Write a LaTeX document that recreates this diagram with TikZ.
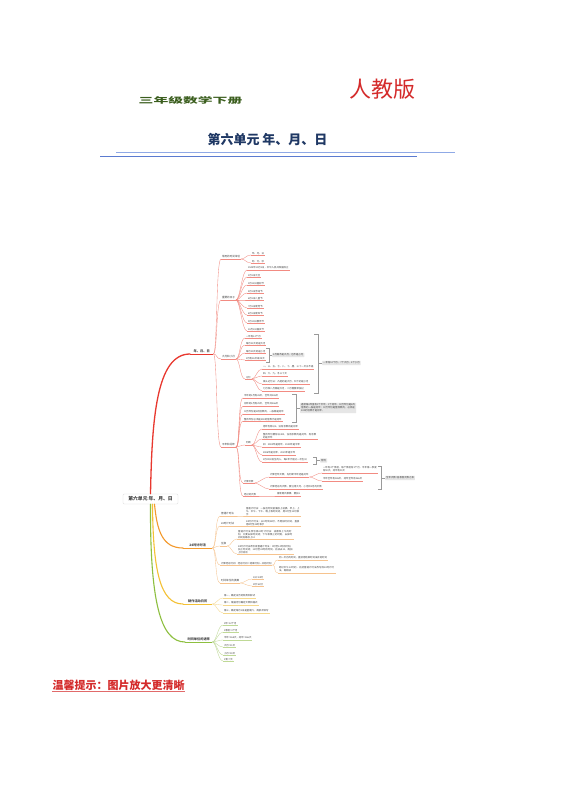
\documentclass[tikz,border=0pt]{standalone}
\usepackage{fontspec}
\setmainfont{Noto Sans CJK SC}
\XeTeXlinebreaklocale "zh"
\XeTeXlinebreakskip = 0pt plus 0.5pt
\usetikzlibrary{positioning}
\definecolor{redmain}{HTML}{E8382F}
\definecolor{redsub}{HTML}{F28B82}
\definecolor{orgmain}{HTML}{F39A2E}
\definecolor{orgsub}{HTML}{F6C38E}
\definecolor{ylwmain}{HTML}{F4C135}
\definecolor{ylwsub}{HTML}{F5D88C}
\definecolor{grnmain}{HTML}{8DBF3F}
\definecolor{grnsub}{HTML}{BFD996}
\definecolor{inkgray}{HTML}{404040}
\definecolor{notegray}{HTML}{E6E6E6}
\definecolor{bracegray}{HTML}{9A9A9A}
\definecolor{titlenavy}{HTML}{1F3864}
\definecolor{titlegreen}{HTML}{3B5E1E}
\definecolor{pressred}{HTML}{D42A2A}
\definecolor{rulelight}{HTML}{8FA9E6}
\definecolor{ruledark}{HTML}{5B7BD0}

\begin{document}
\begin{tikzpicture}[x=1pt, y=-1pt,
    root/.style={draw=black!15, fill=white, rounded corners=1.2pt, minimum width=55pt, minimum height=10pt, inner sep=1pt, font=\bfseries\fontsize{4.8}{5.6}\selectfont, text=inkgray},
    hub/.style={anchor=south west, inner xsep=1pt, inner ysep=0.8pt, font=\bfseries\fontsize{3.2}{3.8}\selectfont, text=inkgray},
    mainul/.style={append after command={(\tikzlastnode.south west) edge[draw=#1, line width=0.9pt] (\tikzlastnode.south east)}},
    ul/.style={append after command={(\tikzlastnode.south west) edge[draw=#1, line width=0.35pt] (\tikzlastnode.south east)}},
    leaf/.style={anchor=south west, inner xsep=0.8pt, inner ysep=0.6pt, font=\fontsize{2.4}{3}\selectfont, text=inkgray, align=left},
    topic/.style={leaf, font=\fontsize{2.6}{3.2}\selectfont},
    rleaf/.style={leaf, ul=redsub}, rtopic/.style={topic, ul=redsub},
    oleaf/.style={leaf, ul=orgsub}, otopic/.style={topic, ul=orgsub},
    yleaf/.style={leaf, ul=ylwsub},
    gleaf/.style={leaf, ul=grnsub},
    link/.style={line width=0.35pt, to path={.. controls +(4,0) and +(-5,0) .. (\tikztotarget)}},
    rlink/.style={link, draw=redsub}, olink/.style={link, draw=orgsub},
    ylink/.style={link, draw=ylwsub}, glink/.style={link, draw=grnsub},
    trunk/.style={line width=1.1pt, line cap=round},
    note/.style={anchor=west, fill=notegray, rounded corners=0.5pt, inner sep=1pt, font=\fontsize{2.4}{3}\selectfont, text=inkgray, align=left},
    brace/.style={draw=bracegray, line width=0.35pt}
]
\fill[white] (0,0) rectangle (560,792);
\useasboundingbox (0,0) rectangle (560,792);

\node[font=\bfseries\fontsize{8}{8}\selectfont, text=titlegreen] (grade) at (190.5,100) {\scalebox{1.85}[1]{三年级数学下册}};
\node[font=\fontsize{22}{22}\selectfont, text=pressred] (press) at (382.5,89) {人教版};
\node[font=\bfseries\fontsize{13}{13}\selectfont, text=titlenavy] (title) at (267.5,139) {第六单元\ 年、月、日};
\draw[rulelight, line width=0.8pt] (116,152.5) -- (455,152.5);
\draw[ruledark, line width=1pt] (100,156) -- (417,156);

\node[root] (unit) at (150.5,499) {第六单元 年、月、日};

\node[hub, mainul=redmain, minimum width=23pt] (ymd) at (190,354) {年、月、日};
\node[hub, mainul=orgmain, minimum width=29pt] (clock) at (183,548) {24时计时法};
\node[hub, mainul=ylwmain, minimum width=29pt] (calendar) at (183,604) {制作活动日历};
\node[hub, mainul=grnmain, minimum width=27pt] (rates) at (185,642) {时间单位的进率};

\draw[trunk, redmain, line width=1.3pt] (unit.north) .. controls (152,420) and (156,354) .. (ymd.south west);
\draw[trunk, orgmain] ([xshift=4pt]unit.south) .. controls (157,530) and (162,548) .. (clock.south west);
\draw[trunk, ylwmain] ([xshift=2pt]unit.south) .. controls (153,570) and (160,604) .. (calendar.south west);
\draw[trunk, grnmain] (unit.south) .. controls (150,600) and (160,642) .. (rates.south west);

\node[rtopic] (units) at (221,259) {常用的时间单位};
\node[rleaf] (unitymd) at (251,255) {年、月、日};
\node[rleaf] (unithms) at (251,263) {时、分、秒};

\node[rtopic] (days) at (221,300) {重要的日子};
\node[rleaf] (day1) at (247,270) {1949年10月1日，中华人民共和国成立};
\node[rleaf] (day2) at (247,277) {1月1日元旦};
\node[rleaf] (day3) at (247,285) {3月12日植树节};
\node[rleaf] (day4) at (247,293) {5月1日劳动节};
\node[rleaf] (day5) at (247,300) {6月1日儿童节};
\node[rleaf] (day6) at (247,308) {7月1日建党节};
\node[rleaf] (day7) at (247,315) {8月1日建军节};
\node[rleaf] (day8) at (247,323) {9月10日教师节};
\node[rleaf] (day9) at (247,331) {10月1日国庆节};

\node[rtopic] (months) at (221,359) {大月和小月};
\node[rleaf] (mon1) at (245,338) {一年有12个月};
\node[rleaf] (mon2) at (245,345) {每月31天的是大月};
\node[rleaf] (mon3) at (245,353) {每月30天的是小月};
\node[rleaf] (mon4) at (245,360) {2月有28天或29天};
\node[rleaf] (memo) at (245,379) {记忆};
\node[rleaf] (memo1) at (262,369) {一、三、五、七、八、十、腊，三十一天永不差};
\node[rleaf] (memo2) at (262,376) {四、六、九、冬三十天};
\node[rleaf] (memo3) at (262,384) {拳头记忆法：凸起的是大月，凹下的是小月};
\node[rleaf] (memo4) at (262,391) {七月和八月都是大月，二月需要单独记};

\draw[brace] (266,348) -- (269,348) -- (269,362) -- (266,362);
\coordinate (febtick) at (272,355);
\draw[brace] (269,355) -- (febtick);
\node[note] (febnote) at (febtick) {2月既不是大月，也不是小月};
\draw[brace] (314,334) -- (318,334) -- (318,393) -- (314,393);
\coordinate (yeartick) at (322,363);
\draw[brace] (318,363) -- (yeartick);
\node[note] (yearnote) at (yeartick) {一年有12个月，7个大月，4个小月};

\node[rtopic] (leap) at (221,447) {平年和闰年};
\node[rleaf] (leap1) at (243,398) {平年的2月有28天，全年共365天};
\node[rleaf] (leap2) at (243,406) {闰年的2月有29天，全年共366天};
\node[rleaf] (leap3) at (243,414) {公历年份是4的倍数的，一般都是闰年};
\node[rleaf] (leap4) at (243,421) {整百年份必须是400的倍数才是闰年};
\draw[brace] (292,394) -- (296,394) -- (296,422) -- (292,422);
\coordinate (leaptick) at (300,408);
\draw[brace] (296,408) -- (leaptick);
\node[note, text width=54pt] (leapnote) at (leaptick) {通常每4年里有3个平年，1个闰年。公历年份是4的倍数的一般是闰年；公历年份是整百数的，必须是400的倍数才是闰年。};

\node[rleaf] (judge) at (245,445) {判断};
\node[rleaf] (judge1) at (262,429) {用年份除以4，没有余数的是闰年};
\node[rleaf, text width=54pt] (judge2) at (262,439) {整百年份要除以400，没有余数的是闰年，有余数的是平年};
\node[rleaf] (judge3) at (262,447) {如：2000年是闰年，1900年是平年};
\node[rleaf] (judge4) at (262,455) {2008年是闰年，2019年是平年};
\node[rleaf] (judge5) at (262,462) {2月29日出生的人，每4年才能过一次生日};
\draw[brace] (313,457) -- (316,457) -- (316,464) -- (313,464);
\coordinate (oddtick) at (320,460.5);
\draw[brace] (316,460.5) -- (oddtick);
\node[note] (oddnote) at (oddtick) {特例};

\node[rleaf] (count) at (243,483) {计算天数};
\node[rleaf] (count1) at (269,477) {计算全年天数，先判断平年还是闰年};
\node[rleaf, text width=54pt] (quar1) at (322,473) {一年有4个季度，每个季度有3个月，平年第一季度有90天，闰年有91天};
\node[rleaf] (quar2) at (322,481) {平年全年有365天，闰年全年有366天};
\draw[brace] (378,466) -- (381,466) -- (381,489) -- (378,489);
\coordinate (quartick) at (385,478);
\draw[brace] (381,478) -- (quartick);
\node[note] (quarnote) at (quartick) {全年天数=各季度天数之和};
\node[rleaf] (count2) at (269,489) {计算经过的天数，要注意大月、小月和2月的天数};
\node[rleaf] (span) at (243,496) {经过的天数};
\node[rleaf] (spanrule) at (276,496) {首尾两天都算，要加1};

\draw[rlink] (ymd.south east) to (units.south west);
\draw[rlink] (ymd.south east) to (days.south west);
\draw[rlink] (ymd.south east) to (months.south west);
\draw[rlink] (ymd.south east) to (leap.south west);
\draw[rlink] (units.south east) to (unitymd.south west);
\draw[rlink] (units.south east) to (unithms.south west);
\draw[rlink] (days.south east) to (day1.south west);
\draw[rlink] (days.south east) to (day2.south west);
\draw[rlink] (days.south east) to (day3.south west);
\draw[rlink] (days.south east) to (day4.south west);
\draw[rlink] (days.south east) to (day5.south west);
\draw[rlink] (days.south east) to (day6.south west);
\draw[rlink] (days.south east) to (day7.south west);
\draw[rlink] (days.south east) to (day8.south west);
\draw[rlink] (days.south east) to (day9.south west);
\draw[rlink] (months.south east) to (mon1.south west);
\draw[rlink] (months.south east) to (mon2.south west);
\draw[rlink] (months.south east) to (mon3.south west);
\draw[rlink] (months.south east) to (mon4.south west);
\draw[rlink] (months.south east) to (memo.south west);
\draw[rlink] (memo.south east) to (memo1.south west);
\draw[rlink] (memo.south east) to (memo2.south west);
\draw[rlink] (memo.south east) to (memo3.south west);
\draw[rlink] (memo.south east) to (memo4.south west);
\draw[rlink] (leap.south east) to (leap1.south west);
\draw[rlink] (leap.south east) to (leap2.south west);
\draw[rlink] (leap.south east) to (leap3.south west);
\draw[rlink] (leap.south east) to (leap4.south west);
\draw[rlink] (leap.south east) to (judge.south west);
\draw[rlink] (leap.south east) to (count.south west);
\draw[rlink] (leap.south east) to (span.south west);
\draw[rlink] (judge.south east) to (judge1.south west);
\draw[rlink] (judge.south east) to (judge2.south west);
\draw[rlink] (judge.south east) to (judge3.south west);
\draw[rlink] (judge.south east) to (judge4.south west);
\draw[rlink] (judge.south east) to (judge5.south west);
\draw[rlink] (count.south east) to (count1.south west);
\draw[rlink] (count.south east) to (count2.south west);
\draw[rlink] (count1.south east) to (quar1.south west);
\draw[rlink] (count1.south east) to (quar2.south west);
\draw[rlink] (span.south east) to (spanrule.south west);

\node[otopic] (normal) at (220,516) {普通计时法};
\node[oleaf, text width=54pt] (normaltext) at (245,516) {普通计时法：一般在时刻前面加上凌晨、早上、上午、中午、下午、晚上等时间词，用1时至12时表示};
\node[otopic] (full) at (220,526) {24时计时法};
\node[oleaf, text width=54pt] (fulltext) at (245,526) {24时计时法：从0时到24时，不用加时间词，直接用0时至24时表示};
\node[otopic] (swap) at (220,546) {互换};
\node[oleaf, text width=55pt] (swapA) at (237,539) {普通计时法改写成24时计时法：凌晨和上午的时刻，只要去掉时间词；下午和晚上的时刻，去掉时间词后再加上12};
\node[oleaf, text width=55pt] (swapB) at (237,554) {24时计时法改写成普通计时法：0时至12时的时刻，加上时间词；13时至24时的时刻，先减去12，再加上时间词};
\node[oleaf] (elapse) at (220,565) {计算经过时间：经过时间＝结束时刻－开始时刻};
\node[oleaf] (elapseA) at (278,560) {同一天内的时间，直接用结束时刻减开始时刻};
\node[oleaf, text width=56pt] (elapseB) at (278,573) {跨过中午12时的，先把普通计时法改写成24时计时法，再相减};
\node[otopic] (convert) at (220,583) {时间单位的换算};
\node[oleaf] (convA) at (252,579) {1日=24时};
\node[oleaf] (convB) at (252,586) {1时=60分};

\draw[olink] (clock.south east) to (normal.south west);
\draw[olink] (clock.south east) to (full.south west);
\draw[olink] (clock.south east) to (swap.south west);
\draw[olink] (clock.south east) to (elapse.south west);
\draw[olink] (clock.south east) to (convert.south west);
\draw[olink] (normal.south east) to (normaltext.south west);
\draw[olink] (full.south east) to (fulltext.south west);
\draw[olink] (swap.south east) to (swapA.south west);
\draw[olink] (swap.south east) to (swapB.south west);
\draw[olink] (elapse.south east) to (elapseA.south west);
\draw[olink] (elapse.south east) to (elapseB.south west);
\draw[olink] (convert.south east) to (convA.south west);
\draw[olink] (convert.south east) to (convB.south west);

\node[yleaf] (calA) at (223,598) {第一，确定日历的种类和样式};
\node[yleaf] (calB) at (223,605) {第二，根据月份确定天数和格式};
\node[yleaf] (calC) at (223,613) {第三，确定每月1日是星期几，再依次填写};

\draw[ylink] (calendar.south east) to (calA.south west);
\draw[ylink] (calendar.south east) to (calB.south west);
\draw[ylink] (calendar.south east) to (calC.south west);

\node[gleaf] (rate1) at (223,625) {1年=12个月};
\node[gleaf] (rate2) at (223,632) {1季度=3个月};
\node[gleaf] (rate3) at (223,640) {平年=365天，闰年=366天};
\node[gleaf] (rate4) at (223,647) {大月=31天};
\node[gleaf] (rate5) at (223,655) {小月=30天};
\node[gleaf] (rate6) at (223,661) {1周=7天};

\draw[glink] (rates.south east) to (rate1.south west);
\draw[glink] (rates.south east) to (rate2.south west);
\draw[glink] (rates.south east) to (rate3.south west);
\draw[glink] (rates.south east) to (rate4.south west);
\draw[glink] (rates.south east) to (rate5.south west);
\draw[glink] (rates.south east) to (rate6.south west);

\node[anchor=west, inner sep=0.5pt, font=\bfseries\fontsize{11}{11}\selectfont, text=pressred, append after command={(\tikzlastnode.south west) edge[draw=pressred!70, line width=1pt] (\tikzlastnode.south east)}] (tip) at (52,685) {温馨提示：图片放大更清晰};
\end{tikzpicture}
\end{document}
